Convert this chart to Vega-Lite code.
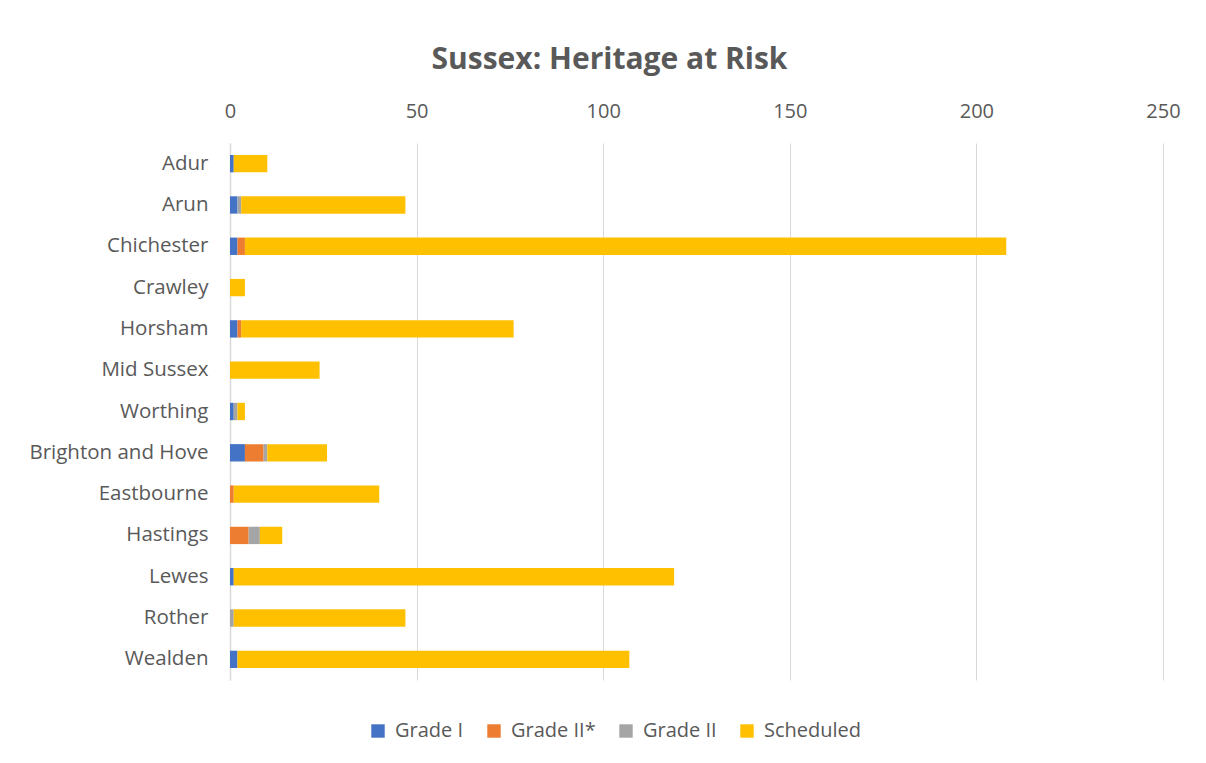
{
  "$schema": "https://vega.github.io/schema/vega-lite/v6.json",
  "width": 933,
  "height": 537,
  "autosize": {"type": "none"},
  "padding": {"left": 230, "top": 143, "right": 43, "bottom": 83},
  "background": "white",
  "title": {
    "text": "Sussex: Heritage at Risk",
    "font": "Open Sans",
    "fontSize": 30,
    "fontWeight": "bold",
    "color": "#595959",
    "anchor": "middle",
    "frame": "group",
    "dx": -87,
    "offset": 26
  },
  "data": {
    "values": [
      {"district": "Adur", "grade": "Grade I", "ord": 1, "count": 1},
      {"district": "Adur", "grade": "Grade II*", "ord": 2, "count": 0},
      {"district": "Adur", "grade": "Grade II", "ord": 3, "count": 0},
      {"district": "Adur", "grade": "Scheduled", "ord": 4, "count": 9},
      {"district": "Arun", "grade": "Grade I", "ord": 1, "count": 2},
      {"district": "Arun", "grade": "Grade II*", "ord": 2, "count": 0},
      {"district": "Arun", "grade": "Grade II", "ord": 3, "count": 1},
      {"district": "Arun", "grade": "Scheduled", "ord": 4, "count": 44},
      {"district": "Chichester", "grade": "Grade I", "ord": 1, "count": 2},
      {"district": "Chichester", "grade": "Grade II*", "ord": 2, "count": 2},
      {"district": "Chichester", "grade": "Grade II", "ord": 3, "count": 0},
      {"district": "Chichester", "grade": "Scheduled", "ord": 4, "count": 204},
      {"district": "Crawley", "grade": "Grade I", "ord": 1, "count": 0},
      {"district": "Crawley", "grade": "Grade II*", "ord": 2, "count": 0},
      {"district": "Crawley", "grade": "Grade II", "ord": 3, "count": 0},
      {"district": "Crawley", "grade": "Scheduled", "ord": 4, "count": 4},
      {"district": "Horsham", "grade": "Grade I", "ord": 1, "count": 2},
      {"district": "Horsham", "grade": "Grade II*", "ord": 2, "count": 1},
      {"district": "Horsham", "grade": "Grade II", "ord": 3, "count": 0},
      {"district": "Horsham", "grade": "Scheduled", "ord": 4, "count": 73},
      {"district": "Mid Sussex", "grade": "Grade I", "ord": 1, "count": 0},
      {"district": "Mid Sussex", "grade": "Grade II*", "ord": 2, "count": 0},
      {"district": "Mid Sussex", "grade": "Grade II", "ord": 3, "count": 0},
      {"district": "Mid Sussex", "grade": "Scheduled", "ord": 4, "count": 24},
      {"district": "Worthing", "grade": "Grade I", "ord": 1, "count": 1},
      {"district": "Worthing", "grade": "Grade II*", "ord": 2, "count": 0},
      {"district": "Worthing", "grade": "Grade II", "ord": 3, "count": 1},
      {"district": "Worthing", "grade": "Scheduled", "ord": 4, "count": 2},
      {"district": "Brighton and Hove", "grade": "Grade I", "ord": 1, "count": 4},
      {"district": "Brighton and Hove", "grade": "Grade II*", "ord": 2, "count": 5},
      {"district": "Brighton and Hove", "grade": "Grade II", "ord": 3, "count": 1},
      {"district": "Brighton and Hove", "grade": "Scheduled", "ord": 4, "count": 16},
      {"district": "Eastbourne", "grade": "Grade I", "ord": 1, "count": 0},
      {"district": "Eastbourne", "grade": "Grade II*", "ord": 2, "count": 1},
      {"district": "Eastbourne", "grade": "Grade II", "ord": 3, "count": 0},
      {"district": "Eastbourne", "grade": "Scheduled", "ord": 4, "count": 39},
      {"district": "Hastings", "grade": "Grade I", "ord": 1, "count": 0},
      {"district": "Hastings", "grade": "Grade II*", "ord": 2, "count": 5},
      {"district": "Hastings", "grade": "Grade II", "ord": 3, "count": 3},
      {"district": "Hastings", "grade": "Scheduled", "ord": 4, "count": 6},
      {"district": "Lewes", "grade": "Grade I", "ord": 1, "count": 1},
      {"district": "Lewes", "grade": "Grade II*", "ord": 2, "count": 0},
      {"district": "Lewes", "grade": "Grade II", "ord": 3, "count": 0},
      {"district": "Lewes", "grade": "Scheduled", "ord": 4, "count": 118},
      {"district": "Rother", "grade": "Grade I", "ord": 1, "count": 0},
      {"district": "Rother", "grade": "Grade II*", "ord": 2, "count": 0},
      {"district": "Rother", "grade": "Grade II", "ord": 3, "count": 1},
      {"district": "Rother", "grade": "Scheduled", "ord": 4, "count": 46},
      {"district": "Wealden", "grade": "Grade I", "ord": 1, "count": 2},
      {"district": "Wealden", "grade": "Grade II*", "ord": 2, "count": 0},
      {"district": "Wealden", "grade": "Grade II", "ord": 3, "count": 0},
      {"district": "Wealden", "grade": "Scheduled", "ord": 4, "count": 105}
    ]
  },
  "mark": {"type": "bar"},
  "encoding": {
    "y": {
      "field": "district",
      "type": "nominal",
      "sort": ["Adur", "Arun", "Chichester", "Crawley", "Horsham", "Mid Sussex", "Worthing", "Brighton and Hove", "Eastbourne", "Hastings", "Lewes", "Rother", "Wealden"],
      "scale": {"paddingInner": 0.58, "paddingOuter": 0.29},
      "axis": {
        "title": null,
        "labelFont": "Open Sans",
        "labelFontSize": 20.5,
        "labelColor": "#595959",
        "labelPadding": 22,
        "ticks": false,
        "domain": true,
        "domainColor": "#d9d9d9",
        "domainWidth": 1.5,
        "grid": false
      }
    },
    "x": {
      "field": "count",
      "type": "quantitative",
      "stack": "zero",
      "scale": {"domain": [0, 250], "nice": false},
      "axis": {
        "orient": "top",
        "title": null,
        "values": [0, 50, 100, 150, 200, 250],
        "labelFlush": false,
        "labelFont": "Open Sans",
        "labelFontSize": 20,
        "labelColor": "#595959",
        "labelPadding": 22,
        "ticks": false,
        "domain": false,
        "grid": true,
        "gridColor": "#d9d9d9",
        "gridWidth": 1
      }
    },
    "color": {
      "field": "grade",
      "type": "nominal",
      "scale": {
        "domain": ["Grade I", "Grade II*", "Grade II", "Scheduled"],
        "range": ["#4472C4", "#ED7D31", "#A5A5A5", "#FFC000"]
      },
      "legend": {
        "title": null,
        "orient": "none",
        "direction": "horizontal",
        "legendX": 138,
        "legendY": 578,
        "symbolType": "square",
        "symbolSize": 180,
        "symbolStrokeWidth": 0,
        "labelFont": "Open Sans",
        "labelFontSize": 20,
        "labelColor": "#595959",
        "labelOffset": 7,
        "columnPadding": 20
      }
    },
    "order": {"field": "ord", "type": "quantitative"}
  },
  "config": {
    "view": {"stroke": null}
  }
}
